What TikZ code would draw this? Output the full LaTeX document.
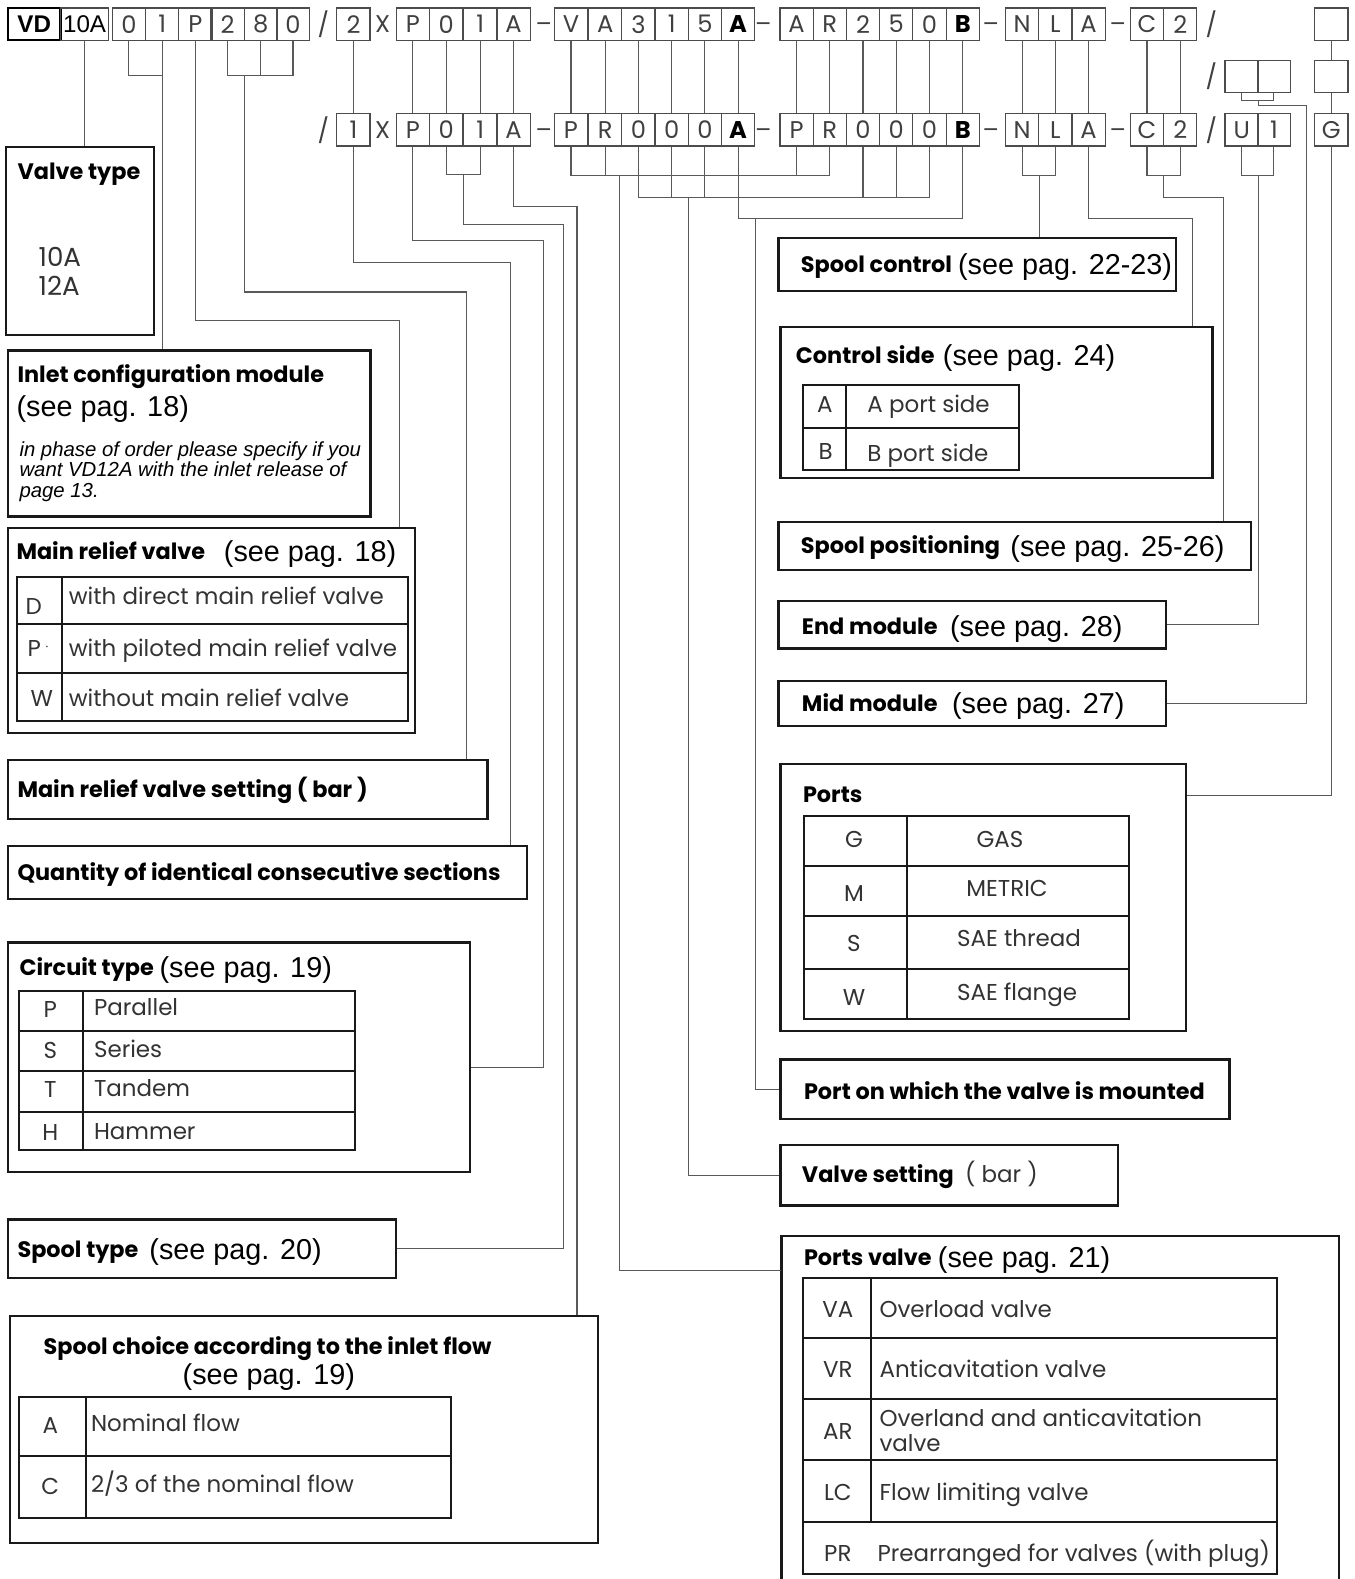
\documentclass[tikz,border=0pt]{standalone}
\usepackage{fontspec}
\setmainfont{Poppins}
\newfontfamily\gothic{Poppins}
\newfontfamily\arial{Liberation Sans}
\usetikzlibrary{fit}
\newcommand\codefont{\gothic\fontsize{12}{14}\selectfont}
\newcommand\titlefont{\gothic\bfseries\fontsize{11.1}{13}\selectfont}
\newcommand\seefont{\arial\fontsize{14.3}{16}\selectfont}
\newcommand\tabfont{\gothic\fontsize{11.4}{13}\selectfont}
\newcommand\itfont{\arial\itshape\fontsize{10.1}{10.4}\selectfont}
\begin{document}
\begin{tikzpicture}[x=0.5pt,y=-0.5pt,
  cell/.style={draw=black!70, line width=0.6pt, minimum width=16.5pt, minimum height=16pt, inner sep=0pt, font=\codefont, text=black!75},
  sepch/.style={inner sep=0pt, font=\codefont, text=black!75},
  dsh/.style={inner sep=0pt, anchor=base, font=\codefont, text=black!75},
  conn/.style={draw=black!65, line width=0.55pt},
  boxx/.style={draw=black!90, line width=1.1pt, inner sep=0pt},
  tab/.style={draw=black!90, line width=1pt},
  ttl/.style={anchor=base west, inner sep=0pt, font=\titlefont},
  see/.style={anchor=base west, inner sep=0pt, font=\seefont},
  txt/.style={anchor=base west, inner sep=0pt, font=\tabfont, text=black!80},
  txc/.style={anchor=base, inner sep=0pt, font=\tabfont, text=black!80},
  itx/.style={anchor=base west, inner sep=0pt, font=\itfont}
]
\useasboundingbox (0,0) rectangle (1345,1568);
\fill[white] (0,0) rectangle (1345,1568);

% ---------------- code row 1 ----------------
\node[draw=black, line width=1.2pt, minimum width=26pt, minimum height=16pt, inner sep=0pt, font=\arial\bfseries\fontsize{12}{14}\selectfont] (tVD) at (34,24) {VD};
\node[draw=black!70, line width=0.6pt, minimum width=24pt, minimum height=16pt, inner sep=0pt, font=\arial\fontsize{12}{14}\selectfont] (t10A) at (84,24) {10A};
\foreach \t/\x/\n in {0/128/t0, 1/161/t1, P/194/tP, 2/226/t2, 8/259/t8, 0/291/t00}
  \node[cell] (\n) at (\x,24) {\t};
\node[sepch] at (321,24) {/};
\node[cell] (tq) at (351,24) {2};
\node[sepch] at (380,24) {X};
\foreach \t/\x/\n in {P/410/a1, 0/443/a2, 1/477/a3, A/510/a4,
   V/567/b1, A/601/b2, 3/634/b3, 1/667/b4, 5/700/b5,
   A/791/c1, R/824/c2, 2/857/c3, 5/890/c4, 0/923/c5,
   N/1015/d1, L/1048/d2, A/1081/d3, C/1139/e1, 2/1172/e2}
  \node[cell] (t\n) at (\x,24) {\t};
\node[cell, font=\codefont\bfseries, text=black] (tb6) at (733,24) {A};
\node[cell, font=\codefont\bfseries, text=black] (tc6) at (956,24) {B};
\foreach \x in {540,758,984,1110} \node[dsh] at (\x,32.5) {–};
\node[sepch] at (1203,24) {/};
\node[cell] (tg) at (1322,24) {};

% ---------------- middle row ----------------
\node[sepch] at (1203,76) {/};
\node[cell] (m1) at (1233,76) {};
\node[cell] (m2) at (1265,76) {};
\node[cell] (mg) at (1322,76) {};

% ---------------- code row 2 ----------------
\node[sepch] at (321,129) {/};
\node[cell] (bq) at (351,129) {1};
\node[sepch] at (380,129) {X};
\foreach \t/\x/\n in {P/410/a1, 0/443/a2, 1/477/a3, A/510/a4,
   P/567/b1, R/601/b2, 0/634/b3, 0/667/b4, 0/700/b5,
   P/791/c1, R/824/c2, 0/857/c3, 0/890/c4, 0/923/c5,
   N/1015/d1, L/1048/d2, A/1081/d3, C/1139/e1, 2/1172/e2, U/1233/u1, 1/1265/u2, G/1322/g}
  \node[cell] (b\n) at (\x,129) {\t};
\node[cell, font=\codefont\bfseries, text=black] (bb6) at (733,129) {A};
\node[cell, font=\codefont\bfseries, text=black] (bc6) at (956,129) {B};
\foreach \x in {540,758,984,1110} \node[dsh] at (\x,137.5) {–};
\node[sepch] at (1203,129) {/};

% row 1 -> row 2 links
\foreach \n in {q,a1,a2,a3,a4,b1,b2,b3,b4,b5,b6,c1,c2,c3,c4,c5,c6,d1,d2,d3,e1,e2}
  \draw[conn] (t\n.south) -- (b\n.north);
\draw[conn] (tg.south) -- (mg.north);
\draw[conn] (mg.south) -- (bg.north);

% ---------------- left boxes ----------------
\node[boxx, fit={(6,146) (153,333)}] (vt) {};
\node[ttl] at (17,178) {Valve type};
\node[txt, font=\gothic\fontsize{13}{15}\selectfont] at (38,265) {10A};
\node[txt, font=\gothic\fontsize{13}{15}\selectfont] at (38,293) {12A};

\node[boxx, fit={(8,348) (368,513)}] (icm) {};
\node[ttl] at (17,380) {Inlet configuration module};
\node[see] at (16,414) {(see pag. 18)};
\node[itx] at (19,453) {in phase of order please specify if you};
\node[itx] at (19,473) {want VD12A with the inlet release of};
\node[itx] at (19,494) {page 13.};

\node[boxx, fit={(8,524) (412,728)}] (mrv) {};
\node[ttl] at (16,556) {Main relief valve};
\node[see] at (222,558) {(see pag. 18)};
\draw[tab] (17,573) rectangle (405,716);
\draw[tab] (17,620) -- (405,620) (17,668) -- (405,668) (62,573) -- (62,716);
\node[txt] at (25,610) {D};
\node[txt] at (27,652) {P\,\raisebox{3pt}{\scriptsize$\cdot$}};
\node[txt] at (30,702) {W};
\node[txt] at (68,600) {with direct main relief valve};
\node[txt] at (68,652) {with piloted main relief valve};
\node[txt] at (68,702) {without main relief valve};

\node[boxx, fit={(8,755) (484,813)}] (mrvs) {};
\node[ttl] at (17,792) {Main relief valve setting ( bar )};

\node[boxx, fit={(8,840) (523,893)}] (qty) {};
\node[ttl] at (17,874) {Quantity of identical consecutive sections};

\node[boxx, fit={(8,936) (467,1164)}] (ct) {};
\node[ttl] at (19,969) {Circuit type};
\node[see] at (158,971) {(see pag. 19)};
\draw[tab] (19,984) rectangle (353,1142);
\draw[tab] (19,1024) -- (353,1024) (19,1064) -- (353,1064) (19,1104) -- (353,1104) (82,984) -- (82,1142);
\node[txc] at (50,1010) {P};
\node[txc] at (50,1051) {S};
\node[txc] at (50,1090) {T};
\node[txc] at (50,1133) {H};
\node[txt] at (93,1008) {Parallel};
\node[txt] at (93,1050) {Series};
\node[txt] at (93,1089) {Tandem};
\node[txt] at (93,1132) {Hammer};

\node[boxx, fit={(8,1211) (393,1269)}] (st) {};
\node[ttl] at (17,1249) {Spool type};
\node[see] at (148,1251) {(see pag. 20)};

\node[boxx, fit={(10,1307) (594,1532)}] (sch) {};
\node[ttl] at (43,1345) {Spool choice according to the inlet flow};
\node[see] at (181,1375) {(see pag. 19)};
\draw[tab] (19,1387) rectangle (448,1507);
\draw[tab] (19,1446) -- (448,1446) (85,1387) -- (85,1507);
\node[txc] at (50,1423) {A};
\node[txc] at (50,1484) {C};
\node[txt] at (90,1422) {Nominal flow};
\node[txt] at (90,1482) {2/3 of the nominal flow};

% ---------------- right boxes ----------------
\node[boxx, fit={(773,236) (1168,289)}] (sc) {};
\node[ttl] at (795,271) {Spool control};
\node[see] at (951,273) {(see pag. 22-23)};

\node[boxx, fit={(775,325) (1204,475)}] (cs) {};
\node[ttl] at (790,361) {Control side};
\node[see] at (936,363) {(see pag. 24)};
\draw[tab] (797,382) rectangle (1012,467);
\draw[tab] (797,425) -- (1012,425) (840,382) -- (840,467);
\node[txc] at (819,410) {A};
\node[txc] at (820,456) {B};
\node[txt] at (861,410) {A port side};
\node[txt] at (861,458) {B port side};

\node[boxx, fit={(773,518) (1242,566)}] (sp) {};
\node[ttl] at (795,550) {Spool positioning};
\node[see] at (1003,553) {(see pag. 25-26)};

\node[boxx, fit={(773,597) (1158,644)}] (em) {};
\node[ttl] at (796,630) {End module};
\node[see] at (943,632) {(see pag. 28)};

\node[boxx, fit={(773,676) (1158,721)}] (mm) {};
\node[ttl] at (796,707) {Mid module};
\node[see] at (945,709) {(see pag. 27)};

\node[boxx, fit={(775,759) (1178,1024)}] (po) {};
\node[ttl] at (797,797) {Ports};
\draw[tab] (798,810) rectangle (1121,1012);
\draw[tab] (798,860) -- (1121,860) (798,910) -- (1121,910) (798,962) -- (1121,962) (901,810) -- (901,1012);
\node[txc] at (848,842) {G};
\node[txc] at (848,895) {M};
\node[txc] at (848,945) {S};
\node[txc] at (848,998) {W};
\node[txc] at (993,842) {GAS};
\node[txc] at (1000,890) {METRIC};
\node[txc] at (1012,940) {SAE thread};
\node[txc] at (1010,994) {SAE flange};

\node[boxx, fit={(775,1052) (1221,1111)}] (pm) {};
\node[ttl] at (798,1092) {Port on which the valve is mounted};

\node[boxx, fit={(775,1137) (1110,1197)}] (vs) {};
\node[ttl] at (796,1174) {Valve setting};
\node[txt] at (958,1174) {( bar )};

\coordinate (pvtl) at (776,1227);
\coordinate (pvtr) at (1330,1227);
\draw[boxx] (776,1580) -- (pvtl) -- (pvtr) -- (1330,1580);
\coordinate (pv) at (776,1262);
\node[ttl] at (798,1257) {Ports valve};
\node[see] at (931,1259) {(see pag. 21)};
\draw[tab] (797,1269) rectangle (1268,1563);
\draw[tab] (797,1329) -- (1268,1329) (797,1389) -- (1268,1389) (797,1450) -- (1268,1450) (797,1511) -- (1268,1511) (865,1269) -- (865,1511);
\node[txc] at (832,1308) {VA};
\node[txc] at (832,1368) {VR};
\node[txc] at (832,1429) {AR};
\node[txc] at (832,1490) {LC};
\node[txc] at (832,1551) {PR};
\node[txt] at (873,1308) {Overload valve};
\node[txt] at (873,1368) {Anticavitation valve};
\node[txt] at (873,1417) {Overland and anticavitation};
\node[txt] at (873,1441) {valve};
\node[txt] at (873,1490) {Flow limiting valve};
\node[txt] at (871,1551) {Prearranged for valves (with plug)};

% ---------------- connectors, left ----------------
\draw[conn] (t10A.south) -- (t10A.south |- vt.north);
\draw[conn] (t0.south) |- (t1.south |- 0,75);
\draw[conn] (t1.south) -- (t1.south |- icm.north);
\coordinate (kP) at (397,318);
\draw[conn] (tP.south) |- (kP) -- (kP |- mrv.north);
\coordinate (j280) at (243,75);
\coordinate (k280) at (463,290);
\draw[conn] (t2.south) |- (j280) -| (t00.south);
\draw[conn] (t8.south) -- (t8.south |- j280);
\draw[conn] (j280) |- (k280) -- (k280 |- mrvs.north);
\coordinate (kq) at (507,261);
\draw[conn] (bq.south) |- (kq) -- (kq |- qty.north);
\coordinate (ka1) at (540,239);
\draw[conn] (ba1.south) |- (ka1) |- (ct.east |- 0,1060);
\coordinate (j01) at (460,173);
\coordinate (k01) at (560,223);
\draw[conn] (ba2.south) |- (j01) -| (ba3.south);
\draw[conn] (j01) |- (k01) |- (st.east);
\coordinate (ka4) at (573,205);
\draw[conn] (ba4.south) |- (ka4) -- (ka4 |- sch.north);

% ---------------- connectors, right ----------------
\coordinate (jPR) at (615,174);
\draw[conn] (bb1.south) |- (bc2.south |- jPR) -- (bc2.south);
\draw[conn] (bb2.south) -- (bb2.south |- jPR);
\draw[conn] (bc1.south) -- (bc1.south |- jPR);
\draw[conn] (jPR) |- (pv);
\coordinate (j000) at (684,196);
\draw[conn] (bb3.south) |- (bc5.south |- j000) -- (bc5.south);
\foreach \n in {b4,b5,c3,c4} \draw[conn] (b\n.south) -- (b\n.south |- j000);
\draw[conn] (j000) |- (vs.west);
\coordinate (jAB) at (750,217);
\draw[conn] (bb6.south) |- (bc6.south |- jAB) -- (bc6.south);
\draw[conn] (jAB) |- (pm.west);
\coordinate (jNL) at (1032,174);
\draw[conn] (bd1.south) |- (bd2.south |- jNL) -- (bd2.south);
\draw[conn] (jNL) -- (jNL |- sc.north);
\coordinate (kA) at (1184,217);
\draw[conn] (bd3.south) |- (kA) -- (kA |- cs.north);
\coordinate (jC2) at (1155,174);
\coordinate (kC2) at (1215,196);
\draw[conn] (be1.south) |- (be2.south |- jC2) -- (be2.south);
\draw[conn] (jC2) |- (kC2) -- (kC2 |- sp.north);
\coordinate (jU1) at (1250,174);
\draw[conn] (bu1.south) |- (bu2.south |- jU1) -- (bu2.south);
\draw[conn] (jU1) |- (em.east);
\coordinate (jM) at (1250,100);
\coordinate (kM) at (1297,105);
\draw[conn] (m1.south) |- (m2.south |- jM) -- (m2.south);
\draw[conn] (jM) |- (kM) |- (mm.east);
\draw[conn] (bg.south) |- (po.east |- 0,790);
\end{tikzpicture}
\end{document}
